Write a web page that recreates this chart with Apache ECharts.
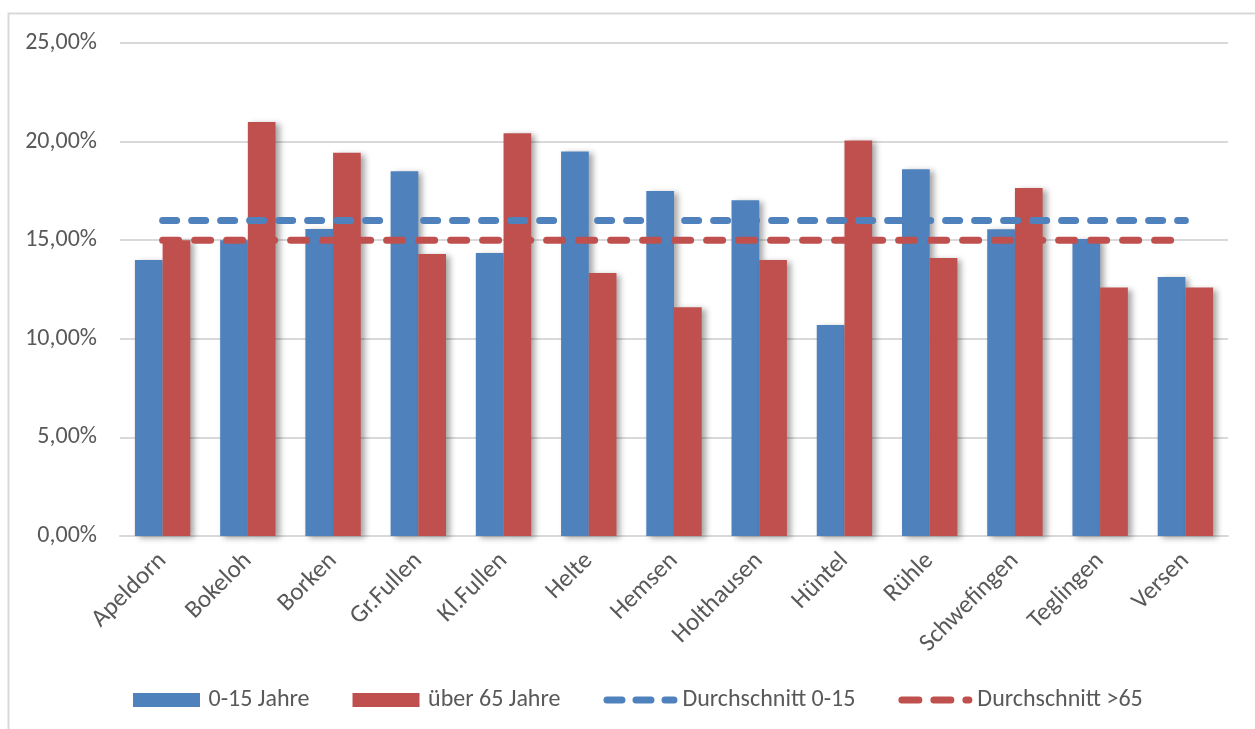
<!DOCTYPE html>
<html>
<head>
<meta charset="utf-8">
<script src="https://cdn.jsdelivr.net/npm/echarts@6/dist/echarts.min.js"></script>
<style>
  html, body { margin: 0; padding: 0; background: #fff; }
  #chart { width: 1255px; height: 729px; }
</style>
</head>
<body>
<div id="chart"></div>
<script>
var orte = ['Apeldorn', 'Bokeloh', 'Borken', 'Gr.Fullen', 'Kl.Fullen', 'Helte', 'Hemsen',
  'Holthausen', 'Hüntel', 'Rühle', 'Schwefingen', 'Teglingen', 'Versen'];
var jung = [14.0, 15.0, 15.57, 18.5, 14.35, 19.5, 17.5, 17.03, 10.7, 18.6, 15.55, 15.06, 13.13];
var alt = [15.0, 21.0, 19.44, 14.3, 20.42, 13.34, 11.6, 14.0, 20.06, 14.1, 17.65, 12.6, 12.6];
var schnittJung = 16.0;
var schnittAlt = 15.0;

var blau = '#4F81BD';
var rot = '#C0504D';
var schrift = 'Carlito, Lato, sans-serif';

// pill shaped dash for the legend icons (height 7)
function pille(x0, x1) {
  return 'M' + (x0 + 3.5) + ' 0L' + (x1 - 3.5) + ' 0A3.5 3.5 0 0 1 ' + (x1 - 3.5) + ' 7L' +
    (x0 + 3.5) + ' 7A3.5 3.5 0 0 1 ' + (x0 + 3.5) + ' 0Z';
}
var iconBlau = 'path://' + pille(0, 22) + pille(29, 51) + pille(58, 74);
var iconRot = 'path://' + pille(0, 24) + pille(32, 56) + pille(64, 74);
var iconBalken = 'path://M0 0H67V14H0Z';

var myChart = echarts.init(document.getElementById('chart'));

var barShadow = {
  shadowBlur: 6,
  shadowOffsetX: 4,
  shadowOffsetY: 2,
  shadowColor: 'rgba(0,0,0,0.35)'
};

myChart.setOption({
  animation: false,
  textStyle: { fontFamily: schrift },
  graphic: [{
    type: 'rect',
    shape: { x: 8.5, y: 13.5, width: 1300, height: 800 },
    style: { fill: 'none', stroke: '#d9d9d9', lineWidth: 2 },
    silent: true
  }],
  grid: {
    left: 120,
    right: 27,
    top: 43,
    bottom: 193
  },
  legend: {
    top: 683,
    left: 128,
    itemWidth: 74,
    itemHeight: 14,
    itemGap: 43,
    symbolKeepAspect: true,
    textStyle: { color: '#595959', fontSize: 24, fontFamily: schrift },
    data: [
      { name: '0-15 Jahre', icon: iconBalken },
      { name: 'über 65 Jahre', icon: iconBalken },
      { name: 'Durchschnitt 0-15', icon: iconBlau },
      { name: 'Durchschnitt >65', icon: iconRot }
    ]
  },
  xAxis: {
    type: 'category',
    data: orte,
    axisTick: { show: false },
    axisLine: { lineStyle: { color: '#d9d9d9', width: 2 } },
    axisLabel: {
      rotate: 45,
      interval: 0,
      margin: 21,
      color: '#595959',
      fontSize: 25,
      fontFamily: schrift
    }
  },
  yAxis: {
    type: 'value',
    min: 0,
    max: 25,
    interval: 5,
    axisLine: { show: false },
    axisTick: { show: false },
    splitLine: { lineStyle: { color: '#d9d9d9', width: 2 } },
    axisLabel: {
      margin: 23,
      color: '#595959',
      fontSize: 24,
      fontFamily: schrift,
      formatter: function (v) { return v.toFixed(2).replace('.', ',') + '%'; }
    }
  },
  series: [
    {
      name: '0-15 Jahre',
      type: 'bar',
      data: jung,
      barGap: '0%',
      barCategoryGap: '35%',
      itemStyle: Object.assign({ color: blau }, barShadow)
    },
    {
      name: 'über 65 Jahre',
      type: 'bar',
      data: alt,
      barGap: '0%',
      barCategoryGap: '35%',
      itemStyle: Object.assign({ color: rot }, barShadow)
    },
    {
      name: 'Durchschnitt 0-15',
      type: 'line',
      data: orte.map(function () { return schnittJung; }),
      symbol: 'none',
      itemStyle: { color: blau },
      lineStyle: { color: blau, width: 7, type: [14, 15], cap: 'round' },
      z: 5
    },
    {
      name: 'Durchschnitt >65',
      type: 'line',
      data: orte.map(function () { return schnittAlt; }),
      symbol: 'none',
      itemStyle: { color: rot },
      lineStyle: { color: rot, width: 7, type: [16, 16], cap: 'round' },
      z: 5
    }
  ]
});
</script>
</body>
</html>
